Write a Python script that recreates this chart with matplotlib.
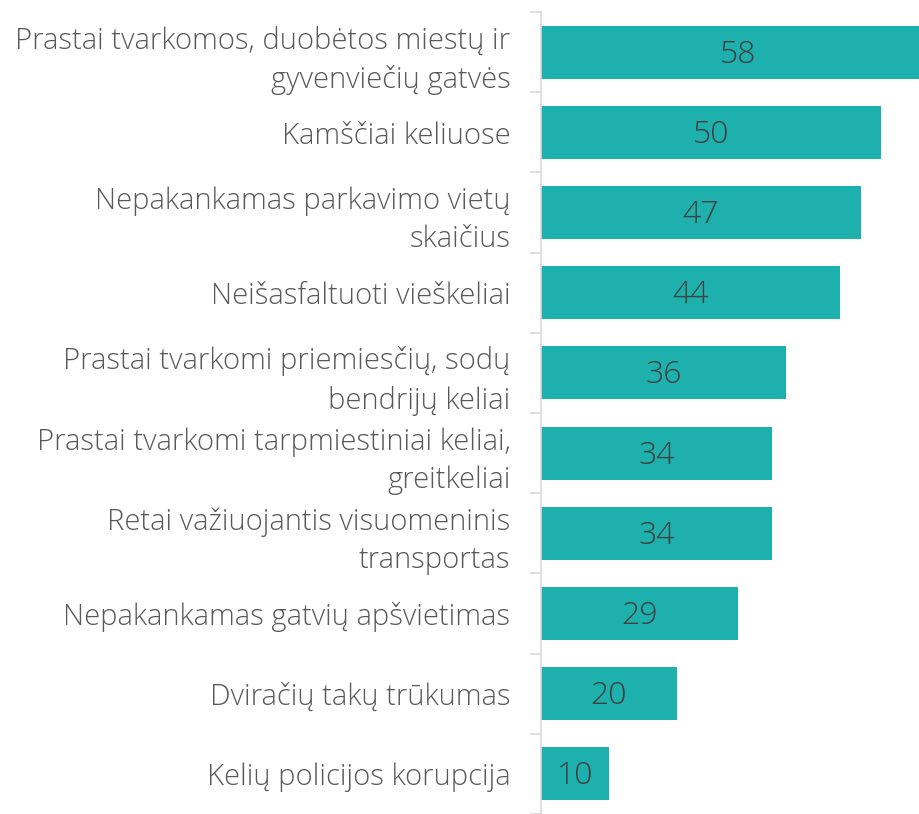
import numpy as np
import matplotlib.pyplot as plt

labels = ["Prastai tvarkomos, duobėtos miestų ir\ngyvenviečių gatvės",
          "Kamščiai keliuose",
          "Nepakankamas parkavimo vietų\nskaičius",
          "Neišasfaltuoti vieškeliai",
          "Prastai tvarkomi priemiesčių, sodų\nbendrijų keliai",
          "Prastai tvarkomi tarpmiestiniai keliai,\ngreitkeliai",
          "Retai važiuojantis visuomeninis\ntransportas",
          "Nepakankamas gatvių apšvietimas",
          "Dviračių takų trūkumas",
          "Kelių policijos korupcija"]
values = [58, 50, 47, 44, 36, 34, 34, 29, 20, 10]

plt.rcParams['font.family'] = ['Open Sans', 'DejaVu Sans']

fig = plt.figure(figsize=(9.2, 8.14), dpi=100)
ax = fig.add_axes([541/920, 0.0, 408/920, 1 - 12/814])

y = np.arange(len(values))
ax.barh(y, values, height=0.66, color="#1db0ac")
for yi, v in zip(y, values):
    ax.text(v / 2, yi + 0.03, str(v), ha="center", va="center", fontsize=23,
            color="#404040", fontweight="light")

ax.set_xlim(0, 60)
ax.set_ylim(len(values) - 0.5, -0.5)
ax.set_yticks(y)
ax.set_yticklabels(labels, fontsize=21, color="#595959", fontweight="light",
                   linespacing=1.4)
ax.set_yticks(np.arange(len(values) + 1) - 0.5, minor=True)
ax.tick_params(axis="y", which="major", length=0, pad=22)
ax.tick_params(axis="y", which="minor", length=8, color="#d9d9d9", width=1.2)
ax.set_xticks([])
for s in ["top", "right", "bottom"]:
    ax.spines[s].set_visible(False)
ax.spines["left"].set_color("#d9d9d9")
ax.spines["left"].set_linewidth(1.2)

fig.savefig("out.png", dpi=100)
